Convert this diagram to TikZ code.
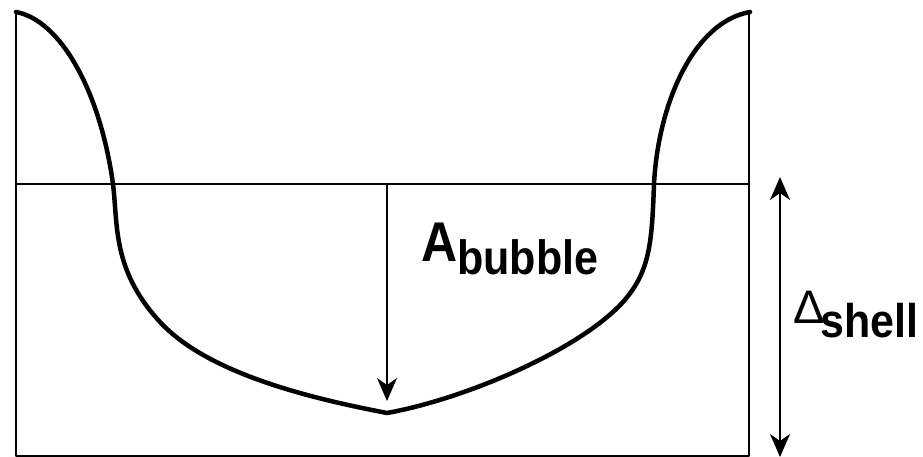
\documentclass[tikz,border=0pt]{standalone}
\usepackage{fontspec}
\setmainfont{Liberation Sans}
\usetikzlibrary{arrows.meta}
\begin{document}
\begin{tikzpicture}[x=1pt,y=-1pt,>={Stealth[length=23pt,width=20pt,inset=7pt]},line join=round,
  frame/.style={line width=2pt},
  profile/.style={line width=4.5pt,line cap=round},
  lbl/.style={font=\fontsize{43}{48}\selectfont\bfseries,inner sep=0pt}]
  \useasboundingbox (0,0) rectangle (923,457);
  % open box and level line
  \draw[frame] (16,12)--(16,456)--(749,456)--(749,12);
  \coordinate (ml) at (16,184);
  \coordinate (mr) at (749,184);
  \draw[frame] (ml)--(mr);
  % profile
  \draw[profile] (16,12) .. controls (60,20) and (100,90) .. (113,184)
    .. controls (118,225) and (112,270) .. (160,322)
    .. controls (210,376) and (320,400) .. (387,413)
    .. controls (470,398) and (590,345) .. (628,296)
    .. controls (650,268) and (652,240) .. (654,184)
    .. controls (658,105) and (693,22) .. (750,12);
  % depth arrows
  \coordinate (atop) at (387,184);
  \coordinate (abot) at (387,401);
  \draw[->,frame] (atop)--(abot);
  \coordinate (dtop) at (780,177);
  \coordinate (dbot) at (780,457);
  \draw[<->,frame] (dtop)--(dbot);
  \node[lbl,anchor=base west] (abub) at (421,261)
    {\scalebox{1}[1.12]{{\fontsize{50}{56}\selectfont A}\raisebox{-12pt}{bubble}}};
  \node[lbl,anchor=base west] (dsh) at (793,337)
    {\raisebox{14pt}{\fontsize{47}{52}\mdseries Δ}\kern-4pt\scalebox{1}[1.1]{shell}};
\end{tikzpicture}
\end{document}
